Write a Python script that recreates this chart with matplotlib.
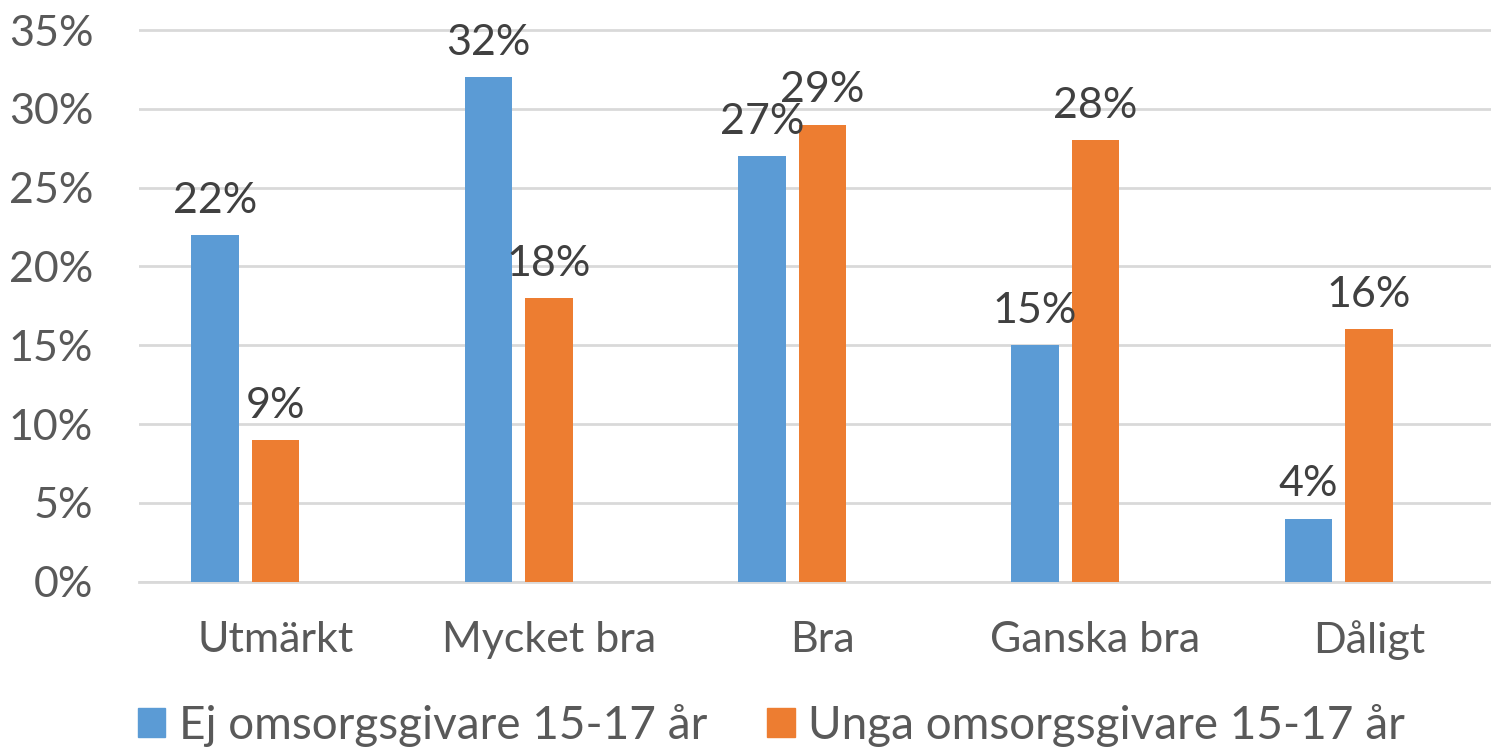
import numpy as np
import matplotlib
matplotlib.use('Agg')
import matplotlib.pyplot as plt
from matplotlib.patches import Patch
from matplotlib.ticker import FuncFormatter

# Data
categories = ['Utmärkt', 'Mycket bra', 'Bra', 'Ganska bra', 'Dåligt']
ej_omsorg = [0.22, 0.32, 0.27, 0.15, 0.04]
unga_omsorg = [0.09, 0.18, 0.29, 0.28, 0.16]
series_names = ['Ej omsorgsgivare 15-17 år', 'Unga omsorgsgivare 15-17 år']

c_blue = '#5B9BD5'
c_orange = '#ED7D31'
c_tick = '#595959'
c_label = '#404040'

plt.rcParams['font.family'] = ['Lato', 'DejaVu Sans']
fs = 31

W, H = 1491, 748
fig = plt.figure(figsize=(W / 100, H / 100), dpi=100)
# axes placed in pixel units: left edge at x=139, 0% at y=582
px_per_unit = 551.7 / 0.35
ytop = 0.36
ax_left, ax_bottom = 139, 748 - 581.7
ax_h = ytop * px_per_unit
ax = fig.add_axes([ax_left / W, ax_bottom / H, (W - ax_left) / W, ax_h / H])

cat_w = 273.3
x = np.arange(len(categories))
bw = 47.5 / cat_w
off = 60.5 / cat_w
ax.bar(x - off, ej_omsorg, bw, color=c_blue, zorder=3)
ax.bar(x, unga_omsorg, bw, color=c_orange, zorder=3)

for xi, v in zip(x - off, ej_omsorg):
    ax.annotate('{:.0f}%'.format(v * 100), (xi, v), xytext=(0, 16),
                textcoords='offset points', ha='center', va='baseline',
                fontsize=fs, color=c_label)
for xi, v in zip(x, unga_omsorg):
    ax.annotate('{:.0f}%'.format(v * 100), (xi, v), xytext=(0, 16),
                textcoords='offset points', ha='center', va='baseline',
                fontsize=fs, color=c_label)

ax.set_xlim(-0.5, -0.5 + (W - ax_left) / cat_w)
ax.set_ylim(0, ytop)
ax.set_yticks(np.arange(0, 0.351, 0.05))
ax.yaxis.set_major_formatter(FuncFormatter(lambda v, p: '{:.0f}%'.format(v * 100)))
ax.set_xticks(x)
ax.set_xticklabels(categories)
ax.tick_params(axis='both', length=0, labelsize=fs, colors=c_tick)
ax.tick_params(axis='y', pad=33)
ax.tick_params(axis='x', pad=28)

ax.grid(axis='y', color='#D9D9D9', lw=2, zorder=0)
for s in ['top', 'right', 'left']:
    ax.spines[s].set_visible(False)
ax.spines['bottom'].set_color('#D9D9D9')
ax.spines['bottom'].set_linewidth(2)

handles = [Patch(color=c_blue), Patch(color=c_orange)]
fig.legend(handles, series_names, loc='center', bbox_to_anchor=(771.5 / W, 1 - 725 / H),
           ncol=2, frameon=False, fontsize=33, labelcolor=c_tick,
           handlelength=0.6, handleheight=0.6, handletextpad=0.3,
           columnspacing=1.3, borderaxespad=0, borderpad=0)

fig.savefig('out.png', dpi=100)
